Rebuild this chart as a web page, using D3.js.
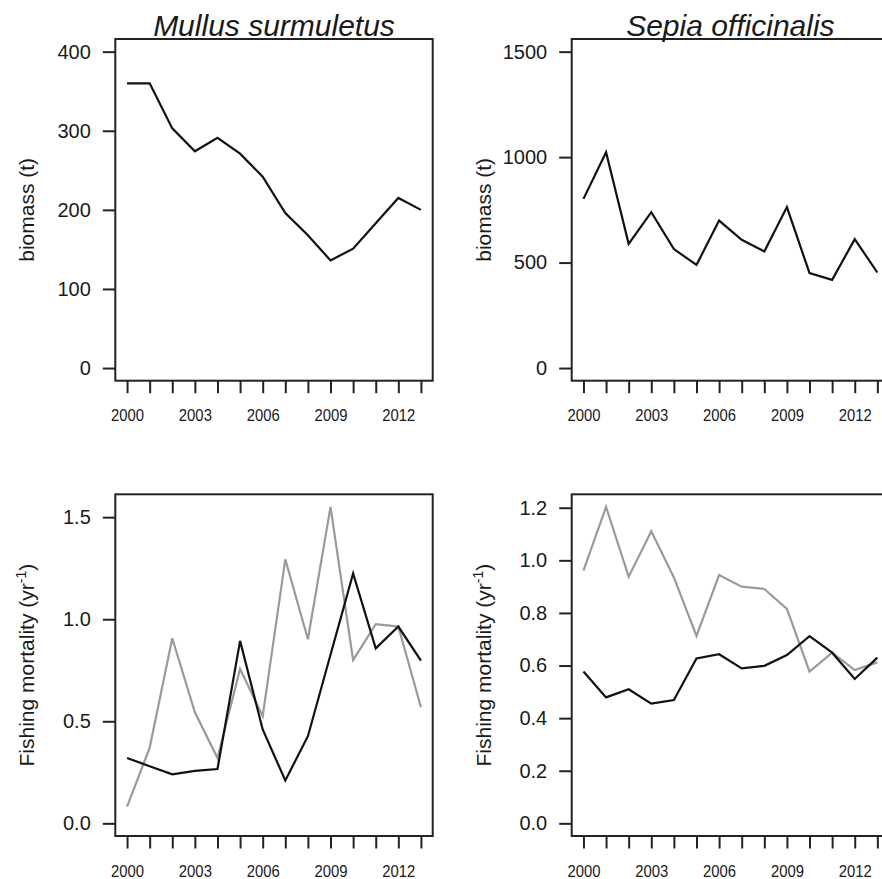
<!DOCTYPE html>
<html>
<head>
<meta charset="utf-8">
<script src="https://cdn.jsdelivr.net/npm/d3@7"></script>
<style>
  html, body { margin: 0; padding: 0; background: #fff; }
  svg { display: block; }
  text { font-family: "Liberation Sans", Arial, Helvetica, sans-serif; fill: #1a1a1a; }
</style>
</head>
<body>
<svg id="chart" width="882" height="879"></svg>
<script>
// Annual series, 2000–2013
const years = [2000, 2001, 2002, 2003, 2004, 2005, 2006, 2007, 2008, 2009, 2010, 2011, 2012, 2013];
const yearLabels = [2000, 2003, 2006, 2009, 2012];

// Biomass (t)
const mullusBiomass = [360, 360, 303, 274, 291, 271, 242, 196, 168, 136, 151, 183, 215, 200];
const sepiaBiomass  = [802, 1023, 589, 739, 564, 489, 699, 608, 553, 763, 450, 418, 611, 453];

// Fishing mortality (yr^-1): black and grey series
const mullusMortalityBlack = [0.32, 0.28, 0.24, 0.257, 0.266, 0.894, 0.46, 0.21, 0.427, 0.826, 1.224, 0.857, 0.964, 0.797];
const mullusMortalityGrey  = [0.082, 0.37, 0.907, 0.544, 0.32, 0.756, 0.525, 1.293, 0.902, 1.55, 0.80, 0.976, 0.964, 0.569];
const sepiaMortalityBlack  = [0.577, 0.479, 0.51, 0.455, 0.469, 0.627, 0.643, 0.589, 0.599, 0.64, 0.712, 0.649, 0.549, 0.63];
const sepiaMortalityGrey   = [0.961, 1.203, 0.938, 1.111, 0.935, 0.713, 0.944, 0.90, 0.891, 0.815, 0.577, 0.649, 0.583, 0.612];

// Axis tick values
const mullusBiomassTicks = [0, 100, 200, 300, 400];
const sepiaBiomassTicks  = [0, 500, 1000, 1500];
const mullusMortalityTicks = [0, 0.5, 1.0, 1.5];
const sepiaMortalityTicks  = [0, 0.2, 0.4, 0.6, 0.8, 1.0, 1.2];

const titles = ["Mullus surmuletus", "Sepia officinalis"];

const svg = d3.select("#chart");
svg.append("rect").attr("width", 882).attr("height", 879).attr("fill", "#fff");

// Panel frames (plot regions)
const cols = [{x0: 115.3, x1: 432.7}, {x0: 571.7, x1: 889.1}];
const rows = [{y0: 39, y1: 380.7}, {y0: 494.3, y1: 836}];

const panels = [
  {col: 0, row: 0, ylim: [0, 400],  ticks: mullusBiomassTicks, fmt: d3.format("d"),
   series: [{values: mullusBiomass, color: "#111"}], ylab: "biomass"},
  {col: 1, row: 0, ylim: [0, 1500], ticks: sepiaBiomassTicks, fmt: d3.format("d"),
   series: [{values: sepiaBiomass, color: "#111"}], ylab: "biomass"},
  {col: 0, row: 1, ylim: [0, d3.max(mullusMortalityGrey.concat(mullusMortalityBlack))],
   ticks: mullusMortalityTicks, fmt: d3.format(".1f"),
   series: [{values: mullusMortalityGrey, color: "#9a9a9a"}, {values: mullusMortalityBlack, color: "#111"}], ylab: "mortality"},
  {col: 1, row: 1, ylim: [0, d3.max(sepiaMortalityGrey.concat(sepiaMortalityBlack))],
   ticks: sepiaMortalityTicks, fmt: d3.format(".1f"),
   series: [{values: sepiaMortalityGrey, color: "#9a9a9a"}, {values: sepiaMortalityBlack, color: "#111"}], ylab: "mortality"}
];

// R-style 4% range extension
function padded(lo, hi) {
  const r = hi - lo;
  return [lo - 0.04 * r, hi + 0.04 * r];
}

panels.forEach(p => {
  const c = cols[p.col], r = rows[p.row];
  const g = svg.append("g");

  const x = d3.scaleLinear().domain(padded(years[0], years[years.length - 1])).range([c.x0, c.x1]);
  const y = d3.scaleLinear().domain(padded(p.ylim[0], p.ylim[1])).range([r.y1, r.y0]);

  // Lines
  p.series.forEach(s => {
    const line = d3.line().x((d, i) => x(years[i])).y(d => y(d));
    g.append("path")
      .datum(s.values)
      .attr("d", line)
      .attr("fill", "none")
      .attr("stroke", s.color)
      .attr("stroke-width", 2.2)
      .attr("stroke-linejoin", "miter");
  });

  // Box
  g.append("rect")
    .attr("x", c.x0).attr("y", r.y0)
    .attr("width", c.x1 - c.x0).attr("height", r.y1 - r.y0)
    .attr("fill", "none").attr("stroke", "#222").attr("stroke-width", 2);

  // Y axis
  const yAxis = d3.axisLeft(y).tickValues(p.ticks).tickFormat(p.fmt).tickSize(12.5).tickPadding(12);
  const ya = g.append("g").attr("transform", `translate(${c.x0},0)`).call(yAxis);
  ya.select(".domain").remove();
  ya.selectAll(".tick line").attr("stroke", "#222").attr("stroke-width", 2);
  ya.selectAll(".tick text").attr("font-size", 20).attr("fill", "#1a1a1a");

  // X axis: ticks every year, labels every third year
  const xAxis = d3.axisBottom(x).tickValues(years)
    .tickFormat(d => yearLabels.includes(d) ? d : "").tickSize(12.5).tickPadding(16.5);
  const xa = g.append("g").attr("transform", `translate(0,${r.y1})`).call(xAxis);
  xa.select(".domain").remove();
  xa.selectAll(".tick line").attr("stroke", "#222").attr("stroke-width", 2);
  xa.selectAll(".tick text")
    .attr("font-size", 16.5)
    .attr("transform", "scale(0.9,1)")
    .attr("fill", "#1a1a1a");

  // Y axis title
  const tx = c.x0 - 81, ty = (r.y0 + r.y1) / 2;
  const t = g.append("text")
    .attr("transform", `translate(${tx},${ty}) rotate(-90)`)
    .attr("text-anchor", "middle")
    .attr("font-size", 21);
  if (p.ylab === "biomass") {
    t.text("biomass (t)");
  } else {
    t.append("tspan").text("Fishing mortality (yr");
    t.append("tspan").attr("dy", -8).attr("font-size", 14).text("-1");
    t.append("tspan").attr("dy", 8).text(")");
  }

  // Species title above top panels
  if (p.row === 0) {
    g.append("text")
      .attr("x", (c.x0 + c.x1) / 2).attr("y", 36)
      .attr("text-anchor", "middle")
      .attr("font-size", 30)
      .attr("font-style", "italic")
      .text(titles[p.col]);
  }
});
</script>
</body>
</html>
